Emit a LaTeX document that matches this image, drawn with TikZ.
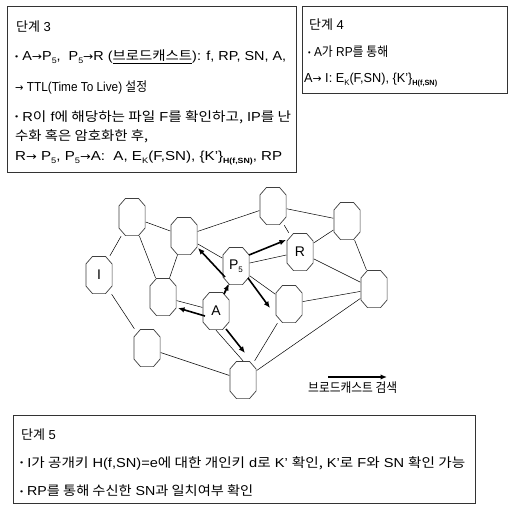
\documentclass[tikz,border=0pt]{standalone}
\usepackage{graphicx}
\usepackage{fontspec}
\setmainfont{Liberation Sans}
\newfontfamily\kr{Noto Sans CJK KR}
\newfontfamily\dv{DejaVu Sans}
\usetikzlibrary{arrows.meta,calc}
\newcommand\sbx[1]{\raisebox{-0.45ex}{\fontsize{8}{8}\selectfont #1}}
\newcommand\sbb[1]{\raisebox{-0.5ex}{\fontsize{7.5}{8}\selectfont\bfseries #1}}
\newcommand\fitw[2]{\resizebox{#1}{\height}{#2}}
\newcommand\rar{{\dv\fontsize{11}{11}\selectfont →}}
\newcommand\bul{\raisebox{0.25ex}{\fontsize{8}{8}\selectfont •}}
\begin{document}
\begin{tikzpicture}[x=1pt,y=-1pt,
  box/.style={draw=black!80,line width=1pt},
  txt/.style={anchor=west,inner sep=0pt,font=\fontsize{13}{15}\selectfont},
  oct/.style={rectangle, minimum width=27pt, minimum height=38pt, inner sep=0pt,
    font=\fontsize{14}{14}\selectfont,
    path picture={\draw[line width=0.7pt, draw=black!75, fill=white]
      ($(path picture bounding box.north west)+(7pt,-0.4pt)$) --
      ($(path picture bounding box.north east)+(-7pt,-0.4pt)$) --
      ($(path picture bounding box.north east)+(-0.4pt,-8pt)$) --
      ($(path picture bounding box.south east)+(-0.4pt,8pt)$) --
      ($(path picture bounding box.south east)+(-7pt,0.4pt)$) --
      ($(path picture bounding box.south west)+(7pt,0.4pt)$) --
      ($(path picture bounding box.south west)+(0.4pt,8pt)$) --
      ($(path picture bounding box.north west)+(0.4pt,-8pt)$) -- cycle;}},
  link/.style={line width=0.5pt},
  bcast/.style={line width=1.6pt,-{Latex[length=6.5pt,width=5.5pt]}}]
\useasboundingbox[fill=white] (0,0) rectangle (510,506);
% boxes
\draw[box] (7,6) rectangle (296,172);
\draw[box] (302,6) rectangle (507,93);
\draw[box] (13,415) rectangle (475,503);
% step 3 text
\node[txt] (s3a) at (16,27) {{\kr 단계} 3};
\node[txt] (s3b) at (15,57) {\fitw{271pt}{\bul\ A\rar P\sbx{5},\; P\sbx{5}\rar R ({\kr\underline{브로드캐스트}}): f, RP, SN, A,}};
\node[txt] (s3c) at (15,87) {\fitw{132pt}{\rar\ TTL(Time To Live) {\kr 설정}}};
\node[txt] (s3d) at (15,117) {\fitw{276pt}{\bul\ R{\kr 이} f{\kr 에 해당하는 파일} F{\kr 를 확인하고,} IP{\kr 를 난}}};
\node[txt] (s3e) at (15,136) {\fitw{133pt}{{\kr 수화 혹은 암호화한 후,}}};
\node[txt] (s3f) at (15,158) {\fitw{267pt}{R\rar\ P\sbx{5}, P\sbx{5}\rar A:\; A, E\sbx{K}(F,SN), \{K'\}\sbb{H(f,SN)}, RP}};
% step 4 text
\node[txt] (s4a) at (309,25) {{\kr 단계} 4};
\node[txt] (s4b) at (308,52) {\fitw{80pt}{\bul\ A{\kr 가} RP{\kr 를 통해}}};
\node[txt] (s4c) at (304,80) {\fitw{133pt}{A\rar\ I: E\sbx{K}(F,SN), \{K'\}\sbb{H(f,SN)}}};
% step 5 text
\node[txt] (s5a) at (21,435) {{\kr 단계} 5};
\node[txt] (s5b) at (20,463) {\fitw{445pt}{\bul\ I{\kr 가 공개키} H(f,SN)=e{\kr 에 대한 개인키} d{\kr 로} K' {\kr 확인,} K'{\kr 로} F{\kr 와} SN {\kr 확인 가능}}};
\node[txt] (s5c) at (20,491) {\fitw{233pt}{\bul\ RP{\kr 를 통해 수신한} SN{\kr 과 일치여부 확인}}};
% network nodes
\node[oct] (I)  at (99,275) {I};
\node[oct] (n1) at (132,217) {};
\node[oct] (n2) at (184,236) {};
\node[oct] (n3) at (273,206) {};
\node[oct] (n4) at (347,221) {};
\node[oct] (P5) at (236,266) {P\sbx{5}};
\node[oct] (R)  at (300,252) {R};
\node[oct] (n5) at (163,297) {};
\node[oct] (A)  at (216,311) {A};
\node[oct] (n6) at (289,304) {};
\node[oct] (n7) at (374,289) {};
\node[oct] (n8) at (147,348) {};
\node[oct] (n9) at (243,380) {};
% thin links
\draw[link] (I) -- (n1);
\draw[link] (I) -- (n8);
\draw[link] (n1) -- (n2);
\draw[link] (n1) -- (n5);
\draw[link] (n2) -- (n5);
\draw[link] (n2) -- (n3);
\draw[link] (n2) -- (P5);
\draw[link] (n3) -- (R);
\draw[link] (n3) -- (n4);
\draw[link] (R) -- (n4);
\draw[link] (R) -- (n7);
\draw[link] (n4) -- (n7);
\draw[link] (n6) -- (n7);
\draw[link] (n7) -- (n9);
\draw[link] (n6) -- (n9);
\draw[link] (P5) -- (R);
\draw[link] (P5) -- (n6);
\draw[link] (P5) -- (A);
\draw[link] (A) -- (n5);
\draw[link] (A.south) -- (n9.north);
\draw[link] (n8) -- (n9);
% broadcast arrows
\draw[bcast] ($(P5)+(13,-11)$) -- ($(R)+(-14,-12)$);
\draw[bcast] ($(P5)+(-11,11)$) -- ($(n2)+(14,12)$);
\draw[bcast] ($(P5)+(12,12)$) -- ($(n6)+(-19,4)$);
\draw[bcast] ($(A)+(-11,5)$) -- ($(n5)+(15,11)$);
\draw[bcast] ($(A)+(10,18)$) -- ($(n9)+(2,-27)$);
\draw[bcast] ($(A)+(8,-17)$) -- ($(A)+(13,-27)$);
% legend
\coordinate (lg1) at (328,377);
\coordinate (lg2) at (387,377);
\draw[bcast] (lg1) -- (lg2);
\node[txt] (lgt) at (308,388) {\fitw{89pt}{{\kr 브로드캐스트 검색}}};
\end{tikzpicture}
\end{document}
